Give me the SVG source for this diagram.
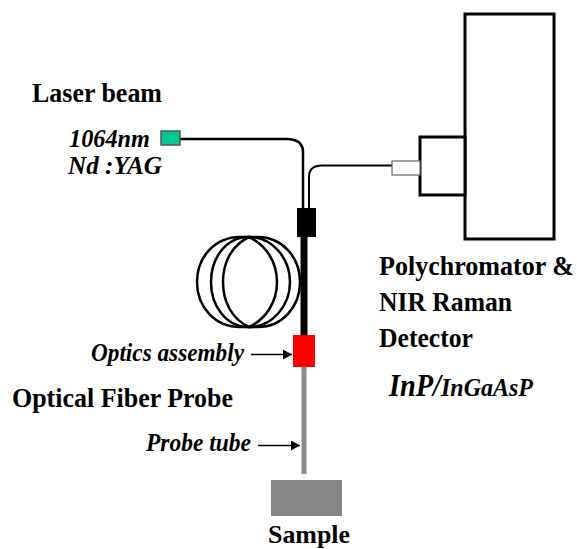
<svg xmlns="http://www.w3.org/2000/svg" width="577" height="549" viewBox="0 0 577 549">
<style>
text{font-family:"Liberation Serif","Times New Roman",serif;font-weight:bold;fill:#000}
.h{font-size:27px}
.i{font-size:26px;font-style:italic}
.box{fill:#fff;stroke:#000;stroke-width:3}
.fib{fill:none;stroke:#000}
.coil{fill:none;stroke:#000;stroke-width:2.5}
</style>
<defs><marker id="a" markerUnits="userSpaceOnUse" markerWidth="9" markerHeight="10" refX="9" refY="5" orient="auto"><path d="M0 0L9 5L0 10Z" fill="#000"/></marker></defs>
<rect width="577" height="549" fill="#fff"/>
<g id="coil">
<path class="coil" d="M249 237H240C215 237 197 257 197 282S215 327 240 327H258C282 327 300 307 300 282S282 237 258 237Z"/>
<path class="coil" d="M249 237C226 237 211 258 211 282C211 306 226 327 249 327C272 327 290 306 290 282C290 258 272 237 249 237Z"/>
<path class="coil" d="M249 237C232 245 223 262 223 282C223 302 232 319 249 327C266 319 277 302 277 282C277 262 266 245 249 237Z"/>
</g>
<g id="connectors">
<path class="fib" stroke-width="2.500" d="M180 139H286Q303 139 303 152V208"/>
<path class="fib" stroke-width="2" d="M392 165.500H322Q309 165.500 309 177V208"/>
<path d="M304 237V335" stroke="#000" stroke-width="7"/>
<path d="M304 367V474" stroke="#8a8a8a" stroke-width="5"/>
<path d="M251 354.500H292" stroke="#000" stroke-width="1.500" marker-end="url(#a)"/>
<path d="M258 445.500H300" stroke="#000" stroke-width="1.500" marker-end="url(#a)"/>
</g>
<g id="polychromator"><rect class="box" x="465" y="14" width="89" height="225"/><rect class="box" x="420" y="137" width="45" height="58"/><rect x="392" y="161" width="28" height="14" fill="#fff" stroke="#666" stroke-width="1.200"/></g>
<g id="laser"><rect x="161" y="131" width="19" height="14" fill="#00c890" stroke="#555" stroke-width="1.500"/></g>
<g id="coupler"><rect x="297" y="208" width="19" height="29" fill="#000"/></g>
<g id="optics"><rect x="293" y="335" width="22" height="32" fill="#f00"/></g>
<g id="sample"><rect x="271" y="480" width="71" height="36" fill="#868686"/></g>
<g id="labels">
<text class="h" x="32" y="102" textLength="130" lengthAdjust="spacingAndGlyphs">Laser beam</text>
<text class="i" x="69" y="147" textLength="81" lengthAdjust="spacingAndGlyphs">1064nm</text>
<text class="i" x="68" y="174" textLength="94" lengthAdjust="spacingAndGlyphs">Nd :YAG</text>
<text class="i" x="91" y="361" style="font-size:25px" textLength="153" lengthAdjust="spacingAndGlyphs">Optics assembly</text>
<text class="h" x="12" y="407" textLength="221" lengthAdjust="spacingAndGlyphs">Optical Fiber Probe</text>
<text class="i" x="146" y="451" textLength="105" lengthAdjust="spacingAndGlyphs">Probe tube</text>
<text x="268" y="543" style="font-size:26px" textLength="82" lengthAdjust="spacingAndGlyphs">Sample</text>
<text class="h" transform="translate(379 275) scale(.965 1)">Polychromator &amp;</text>
<text class="h" x="379" y="311" textLength="133" lengthAdjust="spacingAndGlyphs">NIR Raman</text>
<text class="h" x="379" y="347" textLength="94" lengthAdjust="spacingAndGlyphs">Detector</text>
<text x="389" y="396" font-size="32" font-style="italic" textLength="52" lengthAdjust="spacingAndGlyphs">InP/</text>
<text x="441" y="396" font-size="25" font-style="italic" textLength="92" lengthAdjust="spacingAndGlyphs">InGaAsP</text>
</g>
</svg>
